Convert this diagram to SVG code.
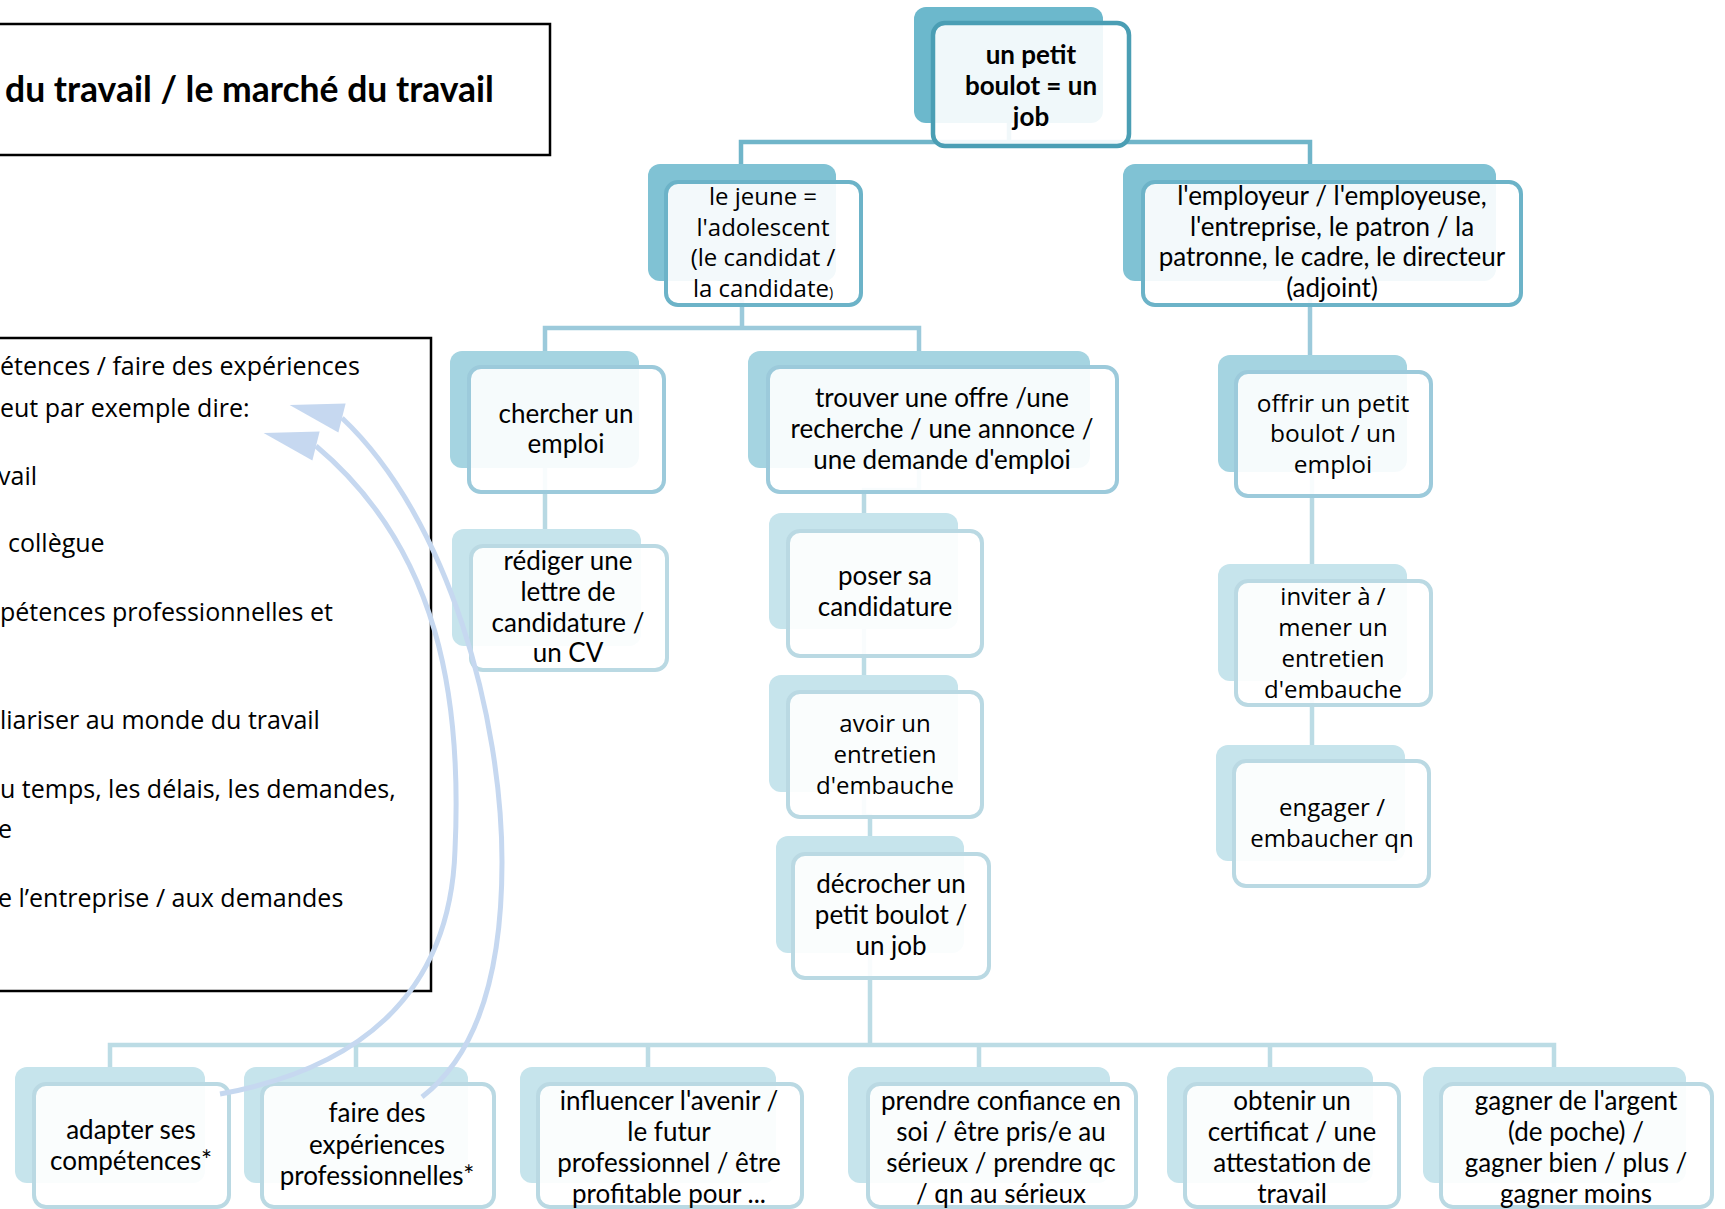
<svg xmlns="http://www.w3.org/2000/svg" width="1725" height="1209" viewBox="0 0 1725 1209">
<style>
.bg{fill:#ffffff}
.b0{fill:#6cb8cc}.b1{fill:#80c2d4}.b2{fill:#a5d4e1}.b3{fill:#c6e4ec}
.fr{fill:#ffffff;fill-opacity:0.9;stroke-width:4}
.f0{stroke:#4a9eb4;stroke-width:4.5}.f1{stroke:#6cb3c8}.f2{stroke:#9ccadb}.f3{stroke:#bad9e3}
.cn{fill:none;stroke-width:4.5;stroke-linejoin:miter}
.c0{stroke:#70b5c9}.c1{stroke:#9ccadb}.c2{stroke:#b8d9e3}.c3{stroke:#bcdce5}
.t{fill:#000;text-anchor:middle}
.cal{font-family:Lato,"Liberation Sans",sans-serif;font-size:26px}
.seg{font-family:"Open Sans","Liberation Sans",sans-serif;font-size:24px}
.bold{font-weight:bold}
.box{fill:#fff;stroke:#000;stroke-width:2.5}
.lt{font-family:"Open Sans","Liberation Sans",sans-serif;font-size:25px;fill:#000}
.arr{fill:none;stroke:#c6d8f0;stroke-width:5}
</style>
<defs>
<marker id="ah" markerUnits="userSpaceOnUse" markerWidth="60" markerHeight="40" refX="0" refY="0" orient="194" overflow="visible">
<path d="M0,-15 L54,0 L0,15 Z" fill="#c6d8f0"/>
</marker>
</defs>
<rect class="bg" x="0" y="0" width="1725" height="1209"/>

<g id="title">
<rect class="box" x="-5" y="24" width="555" height="131"/>
<text x="5" y="102" style="font-family:Lato,'Liberation Sans',sans-serif;font-size:35.5px;font-weight:bold">du travail / le marché du travail</text>
</g>

<g id="leftbox">
<rect class="box" x="-5" y="338" width="436" height="653" stroke-width="2"/>
<text class="lt" x="0" y="375">étences / faire des expériences</text>
<text class="lt" x="0" y="417">eut par exemple dire:</text>
<text class="lt" x="-2" y="485">vail</text>
<text class="lt" x="8" y="552">collègue</text>
<text class="lt" x="0" y="621">pétences professionnelles et</text>
<text class="lt" x="0" y="729">liariser au monde du travail</text>
<text class="lt" x="0" y="798">u temps, les délais, les demandes,</text>
<text class="lt" x="-2" y="838">e</text>
<text class="lt" x="-2" y="907">e l’entreprise / aux demandes</text>
</g>

<g id="connectors">
<path class="cn c0" d="M1009,123 V142 M741,164 V142 H1310 V164"/>
<path class="cn c1" d="M742,281 V328 M545,351 V328 H919 V351"/>
<path class="cn c1" d="M1310,281 V355"/>
<path class="cn c2" d="M545,468 V529"/>
<path class="cn c2" d="M919,468 V490 H864 V513"/>
<path class="cn c2" d="M1312,472 V564"/>
<path class="cn c3" d="M864,629 V675"/>
<path class="cn c3" d="M864,792 V816 H870 V836"/>
<path class="cn c3" d="M1312,681 V745"/>
<path class="cn c3" d="M870,953 V1045 M110,1067 V1045 H1554 V1067 M356,1045 V1067 M648,1045 V1067 M979,1045 V1067 M1270,1045 V1067"/>
</g>

<g id="n-root">
<rect class="b0" x="914" y="7" width="189" height="116" rx="12"/>
<rect class="fr f0" x="933" y="23" width="196" height="123" rx="12"/>
<text class="t cal bold" x="1031"><tspan x="1031" y="64">un petit</tspan><tspan x="1031" y="95">boulot = un</tspan><tspan x="1031" y="126">job</tspan></text>
</g>

<g id="n-jeune">
<rect class="b1" x="648" y="164" width="188" height="117" rx="12"/>
<rect class="fr f1" x="666" y="182" width="195" height="123" rx="12"/>
<text class="t seg"><tspan x="763" y="205">le jeune =</tspan><tspan x="763" y="236">l'adolescent</tspan><tspan x="763" y="266">(le candidat /</tspan><tspan x="763" y="297">la candidate<tspan style="font-size:14px">)</tspan></tspan></text>
</g>

<g id="n-employeur">
<rect class="b1" x="1123" y="164" width="373" height="117" rx="12"/>
<rect class="fr f1" x="1143" y="182" width="378" height="123" rx="12"/>
<text class="t cal"><tspan x="1332" y="205">l'employeur / l'employeuse,</tspan><tspan x="1332" y="236">l'entreprise, le patron / la</tspan><tspan x="1332" y="266">patronne, le cadre, le directeur</tspan><tspan x="1332" y="297">(adjoint)</tspan></text>
</g>

<g id="n-chercher">
<rect class="b2" x="450" y="351" width="189" height="117" rx="12"/>
<rect class="fr f2" x="469" y="367" width="195" height="125" rx="12"/>
<text class="t cal"><tspan x="566" y="423">chercher un</tspan><tspan x="566" y="453">emploi</tspan></text>
</g>

<g id="n-trouver">
<rect class="b2" x="748" y="351" width="342" height="117" rx="12"/>
<rect class="fr f2" x="768" y="367" width="349" height="125" rx="12"/>
<text class="t cal"><tspan x="942" y="407">trouver une offre /une</tspan><tspan x="942" y="438">recherche / une annonce /</tspan><tspan x="942" y="469">une demande d'emploi</tspan></text>
</g>

<g id="n-offrir">
<rect class="b2" x="1218" y="355" width="189" height="117" rx="12"/>
<rect class="fr f2" x="1236" y="372" width="195" height="124" rx="12"/>
<text class="t seg" style="font-size:24.5px"><tspan x="1333" y="412">offrir un petit</tspan><tspan x="1333" y="442">boulot / un</tspan><tspan x="1333" y="473">emploi</tspan></text>
</g>

<g id="n-rediger">
<rect class="b3" x="452" y="529" width="189" height="117" rx="12"/>
<rect class="fr f3" x="471" y="546" width="196" height="124" rx="12"/>
<text class="t cal"><tspan x="568" y="570">rédiger une</tspan><tspan x="568" y="601">lettre de</tspan><tspan x="568" y="632">candidature /</tspan><tspan x="568" y="662">un CV</tspan></text>
</g>

<g id="n-poser">
<rect class="b3" x="769" y="513" width="189" height="116" rx="12"/>
<rect class="fr f3" x="788" y="531" width="194" height="125" rx="12"/>
<text class="t cal"><tspan x="885" y="585">poser sa</tspan><tspan x="885" y="616">candidature</tspan></text>
</g>

<g id="n-avoir">
<rect class="b3" x="769" y="675" width="189" height="117" rx="12"/>
<rect class="fr f3" x="788" y="692" width="194" height="125" rx="12"/>
<text class="t seg"><tspan x="885" y="732">avoir un</tspan><tspan x="885" y="763">entretien</tspan><tspan x="885" y="794">d'embauche</tspan></text>
</g>

<g id="n-decrocher">
<rect class="b3" x="776" y="836" width="188" height="117" rx="12"/>
<rect class="fr f3" x="793" y="854" width="196" height="124" rx="12"/>
<text class="t cal"><tspan x="891" y="893">décrocher un</tspan><tspan x="891" y="924">petit boulot /</tspan><tspan x="891" y="955">un job</tspan></text>
</g>

<g id="n-inviter">
<rect class="b3" x="1218" y="564" width="189" height="117" rx="12"/>
<rect class="fr f3" x="1236" y="581" width="195" height="124" rx="12"/>
<text class="t seg"><tspan x="1333" y="605">inviter à /</tspan><tspan x="1333" y="636">mener un</tspan><tspan x="1333" y="667">entretien</tspan><tspan x="1333" y="698">d'embauche</tspan></text>
</g>

<g id="n-engager">
<rect class="b3" x="1216" y="745" width="189" height="116" rx="12"/>
<rect class="fr f3" x="1234" y="761" width="195" height="125" rx="12"/>
<text class="t seg"><tspan x="1332" y="816">engager /</tspan><tspan x="1332" y="847">embaucher qn</tspan></text>
</g>

<g id="n-adapter">
<rect class="b3" x="15" y="1067" width="190" height="116" rx="12"/>
<rect class="fr f3" x="34" y="1084" width="195" height="123" rx="12"/>
<text class="t cal"><tspan x="131" y="1139">adapter ses</tspan><tspan x="131" y="1170">compétences*</tspan></text>
</g>

<g id="n-faire">
<rect class="b3" x="244" y="1067" width="224" height="116" rx="12"/>
<rect class="fr f3" x="262" y="1084" width="232" height="123" rx="12"/>
<text class="t cal"><tspan x="377" y="1122">faire des</tspan><tspan x="377" y="1154">expériences</tspan><tspan x="377" y="1185">professionnelles*</tspan></text>
</g>

<g id="n-influencer">
<rect class="b3" x="520" y="1067" width="256" height="116" rx="12"/>
<rect class="fr f3" x="538" y="1084" width="264" height="123" rx="12"/>
<text class="t cal"><tspan x="669" y="1110">influencer l'avenir /</tspan><tspan x="669" y="1141">le futur</tspan><tspan x="669" y="1172">professionnel / être</tspan><tspan x="669" y="1203">profitable pour ...</tspan></text>
</g>

<g id="n-prendre">
<rect class="b3" x="848" y="1067" width="262" height="116" rx="12"/>
<rect class="fr f3" x="868" y="1084" width="268" height="123" rx="12"/>
<text class="t cal"><tspan x="1001" y="1110">prendre confiance en</tspan><tspan x="1001" y="1141">soi / être pris/e au</tspan><tspan x="1001" y="1172">sérieux / prendre qc</tspan><tspan x="1001" y="1203">/ qn au sérieux</tspan></text>
</g>

<g id="n-obtenir">
<rect class="b3" x="1167" y="1067" width="206" height="116" rx="12"/>
<rect class="fr f3" x="1185" y="1084" width="214" height="123" rx="12"/>
<text class="t cal"><tspan x="1292" y="1110">obtenir un</tspan><tspan x="1292" y="1141">certificat / une</tspan><tspan x="1292" y="1172">attestation de</tspan><tspan x="1292" y="1203">travail</tspan></text>
</g>

<g id="n-gagner">
<rect class="b3" x="1423" y="1067" width="263" height="116" rx="12"/>
<rect class="fr f3" x="1441" y="1084" width="271" height="123" rx="12"/>
<text class="t cal"><tspan x="1576" y="1110">gagner de l'argent</tspan><tspan x="1576" y="1141">(de poche) /</tspan><tspan x="1576" y="1172">gagner bien / plus /</tspan><tspan x="1576" y="1203">gagner moins</tspan></text>
</g>

<g id="arrows">
<path class="arr" d="M220,1094 C352,1070 450,1000 455,850 C462,700 440,550 316,446" marker-end="url(#ah)"/>
<path class="arr" d="M422,1097 C470,1060 502,990 502,862 C502,720 450,520 342,418" marker-end="url(#ah)"/>
</g>
</svg>
